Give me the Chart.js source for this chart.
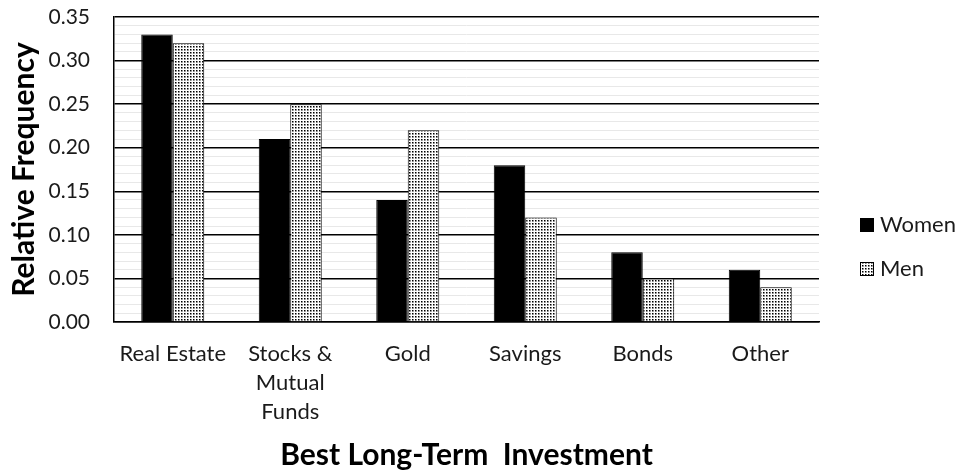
<!DOCTYPE html>
<html>
<head>
<meta charset="utf-8">
<script src="https://cdn.jsdelivr.net/npm/chart.js@4/dist/chart.umd.min.js"></script>
<style>
html,body{margin:0;padding:0;background:#fff;}
#wrap{width:969px;height:470px;position:relative;}
</style>
</head>
<body>
<div id="wrap"><canvas id="c"></canvas></div>
<script>
const categories = ["Real Estate", ["Stocks &", "Mutual", "Funds"], "Gold", "Savings", "Bonds", "Other"];
const women = [0.33, 0.21, 0.14, 0.18, 0.08, 0.06];
const men = [0.32, 0.25, 0.22, 0.12, 0.05, 0.04];
const seriesNames = ["Women", "Men"];
const xTitle = "Best Long-Term  Investment";
const yTitle = "Relative Frequency";

const FONT = "Lato";
const TXT = "#1a1a1a";

function makePattern() {
  const c = document.createElement('canvas');
  c.width = 3; c.height = 3;
  const g = c.getContext('2d');
  g.fillStyle = '#fff'; g.fillRect(0, 0, 3, 3);
  g.fillStyle = '#000'; g.fillRect(1, 1, 1, 1);
  g.fillStyle = '#808080'; g.fillRect(2, 1, 1, 1); g.fillRect(1, 2, 1, 1);
  g.fillStyle = '#b0b0b0'; g.fillRect(2, 2, 1, 1);
  return g.createPattern(c, 'repeat');
}
const dotPattern = makePattern();

const legendPlugin = {
  id: 'customLegend',
  afterDraw(chart) {
    const ctx = chart.ctx;
    const items = [
      {label: seriesNames[0], fill: '#000', y: 225},
      {label: seriesNames[1], fill: dotPattern, y: 269}
    ];
    ctx.save();
    ctx.font = `22px ${FONT}`;
    ctx.textBaseline = 'middle';
    items.forEach(it => {
      ctx.fillStyle = it.fill;
      ctx.fillRect(860, it.y - 7, 14, 14);
      ctx.strokeStyle = '#000';
      ctx.lineWidth = 1;
      ctx.strokeRect(860.5, it.y - 6.5, 13, 13);
      ctx.fillStyle = TXT;
      ctx.fillText(it.label, 880, it.y);
    });
    ctx.restore();
  }
};

new Chart(document.getElementById('c'), {
  type: 'bar',
  data: {
    labels: categories,
    datasets: [
      {label: seriesNames[0], data: women, backgroundColor: '#000', borderColor: '#000', borderWidth: 1},
      {label: seriesNames[1], data: men, backgroundColor: dotPattern, borderColor: '#000', borderWidth: 1}
    ]
  },
  options: {
    responsive: true,
    maintainAspectRatio: false,
    animation: false,
    layout: {padding: {top: 17, right: 150, bottom: 0, left: 0}},
    datasets: {bar: {categoryPercentage: 0.536, barPercentage: 1}},
    plugins: {legend: {display: false}, tooltip: {enabled: false}},
    scales: {
      x: {
        grid: {display: false},
        border: {display: true, color: '#000', width: 1.5},
        ticks: {font: {family: FONT, size: 22, lineHeight: 1.3}, color: TXT, padding: 10, maxRotation: 0, autoSkip: false},
        title: {display: true, text: xTitle, color: '#000', font: {family: FONT, size: 30, weight: 'bold', lineHeight: 1.0}, padding: {top: 0, bottom: 0}},
        afterFit(s) { s.height = 148; s.paddingLeft = 0; s.paddingRight = 0; }
      },
      y: {
        min: 0, max: 0.35,
        ticks: {
          stepSize: 0.01, autoSkip: false, padding: 24,
          font: {family: FONT, size: 21}, color: TXT,
          callback: (v) => (Math.round(v * 100) % 5 === 0 ? v.toFixed(2) : '')
        },
        grid: {
          drawTicks: false,
          color: (c) => (c.tick && Math.round(c.tick.value * 100) % 5 === 0 ? '#000' : '#e8e8e8'),
          lineWidth: (c) => (c.tick && Math.round(c.tick.value * 100) % 5 === 0 ? 1.5 : 1)
        },
        border: {display: true, color: '#000', width: 1.5},
        title: {display: true, text: yTitle, color: '#000', font: {family: FONT, size: 30, weight: 'bold', lineHeight: 1.0}, padding: {top: 9, bottom: 0}},
        afterFit(s) { s.width = 114; s.paddingTop = 0; s.paddingBottom = 0; }
      }
    }
  },
  plugins: [legendPlugin]
});
</script>
</body>
</html>
